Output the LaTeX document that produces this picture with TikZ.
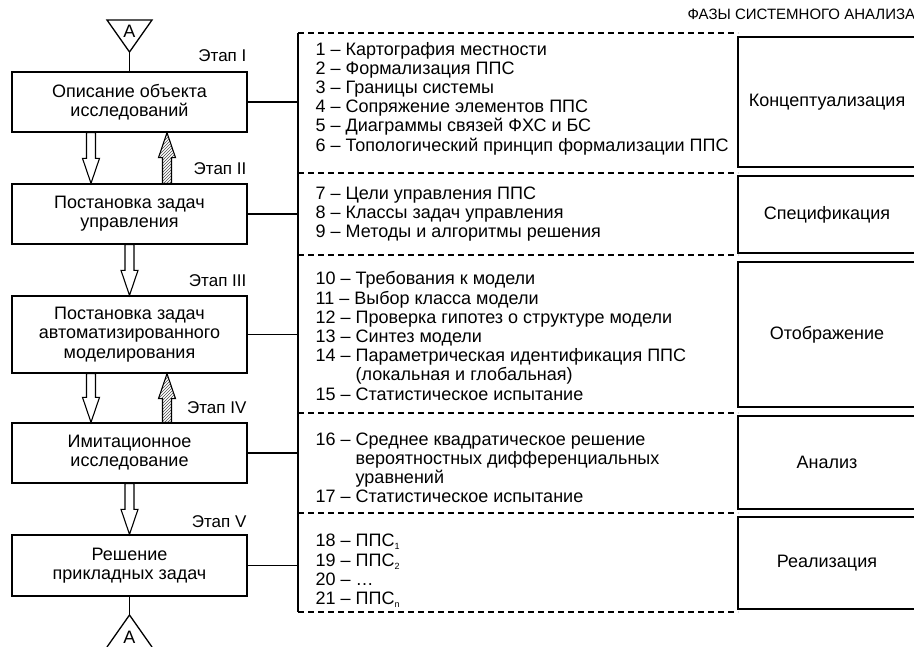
\documentclass[tikz,border=0pt]{standalone}
\usepackage{fontspec}
\setmainfont{Liberation Sans}
\usetikzlibrary{calc}
\usetikzlibrary{patterns}

% polygonal block arrow from #2 to #3 (vertical)
\newcommand{\blockarrow}[3][]{%
  \draw[blockarr,#1] let \p1=(#2), \p2=(#3), \n1={25*sign(\y1-(\y2))} in
    ({\x1-4.5pt},\y1) -- ({\x1-4.5pt},{\y2+(\n1)*1pt}) -- ({\x1-8.5pt},{\y2+(\n1)*1pt})
    -- (\x1,\y2) -- ({\x1+8.5pt},{\y2+(\n1)*1pt}) -- ({\x1+4.5pt},{\y2+(\n1)*1pt})
    -- ({\x1+4.5pt},\y1) -- cycle;}
\newcommand{\ind}[1]{\raisebox{-3pt}{\fontsize{9}{9}\selectfont #1}}

\begin{document}
\begin{tikzpicture}[x=1pt,y=-1pt, line width=1.3pt,
  font=\fontsize{18}{19.2}\selectfont,
  etap/.style={draw, minimum width=235pt, align=center, inner sep=2pt},
  faza/.style={draw, minimum width=178pt, align=center},
  spisok/.style={anchor=west, align=left, inner sep=0pt},
  stage/.style={anchor=east, inner sep=0pt, font=\fontsize{17}{19}\selectfont},
  blockarr/.style={line width=1.1pt, fill=white},
  hatched/.style={pattern=north east lines, pattern color=black!70},
  razdel/.style={line width=1.1pt, dash pattern=on 6pt off 4pt}]
 \path[use as bounding box] (0,0) rectangle (914,647);
 \clip (0,0) rectangle (914,647);

 % Заголовок
 \node[anchor=west, inner sep=0pt, font=\fontsize{15}{18}\selectfont] (hdr) at (687,14) {ФАЗЫ СИСТЕМНОГО АНАЛИЗА};

 % Этапы
 \node[etap, minimum height=60pt] (b1) at (129.5,102)   {Описание объекта\\исследований};
 \node[etap, minimum height=60pt] (b2) at (129.5,214)   {Постановка задач\\управления};
 \node[etap, minimum height=77pt] (b3) at (129.5,334.5) {Постановка задач\\автоматизированного\\моделирования};
 \node[etap, minimum height=60pt] (b4) at (129.5,453)   {Имитационное\\исследование};
 \node[etap, minimum height=61pt] (b5) at (129.5,565.5) {Решение\\прикладных задач};

 \node[stage] (e1) at (247,56)  {Этап I};
 \node[stage] (e2) at (247,169) {Этап II};
 \node[stage] (e3) at (247,281) {Этап III};
 \node[stage] (e4) at (247,408) {Этап IV};
 \node[stage] (e5) at (247,522) {Этап V};

 % Соединители A
 \draw (107,20) -- (152,20) -- (129.5,52) -- cycle;
 \node (tA) at (129.5,31) {A};
 \coordinate (tAv) at (129.5,52);
 \draw (tAv) -- (b1.north);
 \draw (107,647) -- (129.5,615) -- (152,647);
 \node (bA) at (129.5,637) {A};
 \coordinate (bAv) at (129.5,615);
 \draw (b5.south) -- (bAv);

 % Стрелки
 \blockarrow{$(b1.south)+(-38.5,0)$}{$(b2.north)+(-38.5,0)$}
 \blockarrow[hatched]{$(b2.north)+(37.5,0)$}{$(b1.south)+(37.5,0)$}
 \blockarrow{b2.south}{b3.north}
 \blockarrow{$(b3.south)+(-38.5,0)$}{$(b4.north)+(-38.5,0)$}
 \blockarrow[hatched]{$(b4.north)+(37.5,0)$}{$(b3.south)+(37.5,0)$}
 \blockarrow{b4.south}{b5.north}

 % Скобка и разделители
 \coordinate (sp) at (298,33);
 \coordinate (spb) at (298,612);
 \draw (sp) -- (spb);
 \foreach \b in {b1,b2,b3,b4,b5}
  \draw (\b.east) -- (\b.east -| sp);
 \foreach \y in {33,173,255,413,513,612}
  \draw[razdel] (298,\y) -- (738,\y);

 % Списки
 \node[spisok] (l1) at (315,98.5) {1 – Картография местности\\2 – Формализация ППС\\3 – Границы системы\\4 – Сопряжение элементов ППС\\5 – Диаграммы связей ФХС и БС\\6 – Топологический принцип формализации ППС};
 \node[spisok] (l2) at (315,214) {7 – Цели управления ППС\\8 – Классы задач управления\\9 – Методы и алгоритмы решения};
 \node[spisok] (l3) at (315,336) {10 – Требования к модели\\11 – Выбор класса модели\\12 – Проверка гипотез о структуре модели\\13 – Синтез модели\\14 – Параметрическая идентификация ППС\\\hphantom{14 – }(локальная и глобальная)\\15 – Статистическое испытание};
 \node[spisok] (l4) at (315,468) {16 – Среднее квадратическое решение\\\hphantom{16 – }вероятностных дифференциальных\\\hphantom{16 – }уравнений\\17 – Статистическое испытание};
 \node[spisok] (l5) at (315,571) {18 – ППС\ind{1}\\19 – ППС\ind{2}\\20 – \ldots\\21 – ППС\ind{n}};

 % Фазы
 \node[faza, minimum height=130pt] (f1) at (827,102)   {Концептуализация};
 \node[faza, minimum height=77pt]  (f2) at (827,214.5) {Спецификация};
 \node[faza, minimum height=145pt] (f3) at (827,334.5) {Отображение};
 \node[faza, minimum height=93pt]  (f4) at (827,462.5) {Анализ};
 \node[faza, minimum height=92pt]  (f5) at (827,563)   {Реализация};
\end{tikzpicture}
\end{document}
